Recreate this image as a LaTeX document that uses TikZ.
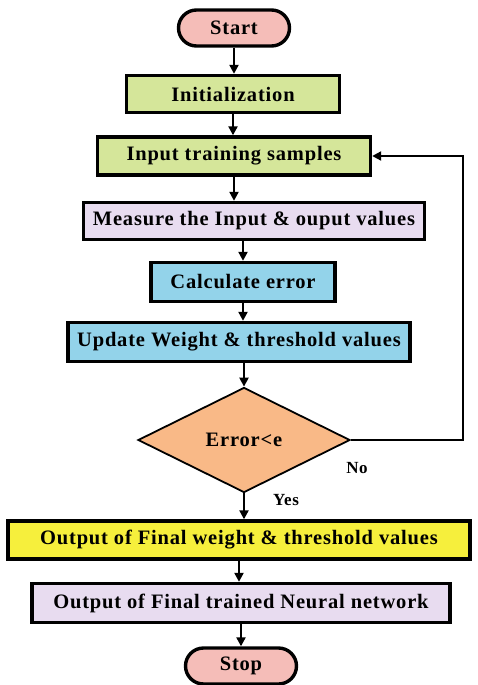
\documentclass[tikz,border=0pt]{standalone}
\usepackage{fontspec}
\setmainfont{Liberation Serif}[LetterSpace=4]
\usetikzlibrary{shapes.geometric, arrows.meta}
\definecolor{pinkFill}{HTML}{F5BDB8}
\definecolor{greenFill}{HTML}{D5E69A}
\definecolor{lilacFill}{HTML}{E8DCF0}
\definecolor{blueFill}{HTML}{93D3EA}
\definecolor{orangeFill}{HTML}{F9B987}
\definecolor{yellowFill}{HTML}{F6EF3C}
\tikzstyle{flowText}=[font = \fontsize{20.5}{24}\selectfont\bfseries]
\tikzstyle{flowArrow}=[line width = 2.2pt, -{Triangle[length=9pt, width=9pt]}]

\begin{document}
\begin{tikzpicture}[x = 1pt, y = -1pt]
\tikzstyle{stepBox}=[shape = rectangle, draw, line width = 3.4pt, inner sep = 0pt, flowText]
\tikzstyle{endBox}=[stepBox, rounded corners = 18pt, minimum width = 111pt, minimum height = 36pt]
\tikzstyle{testBox}=[shape = diamond, draw, line width = 1.8pt, inner sep = 0pt, aspect = 2, minimum width = 212pt, minimum height = 105pt, fill = orangeFill, flowText]
\tikzstyle{answer}=[font = \fontsize{17}{20}\selectfont\bfseries]
\useasboundingbox (0,0) rectangle (477,685);
\node[endBox, fill = pinkFill] (start) at (234,28) {Start};
\node[stepBox, fill = greenFill, minimum width = 213pt, minimum height = 37pt] (init) at (233,94) {Initialization};
\node[stepBox, fill = greenFill, minimum width = 273pt, minimum height = 38pt] (input) at (234,156) {Input training samples};
\node[stepBox, fill = lilacFill, minimum width = 341pt, minimum height = 37pt] (measure) at (254,221) {Measure the Input \& ouput values};
\node[stepBox, fill = blueFill, minimum width = 184pt, minimum height = 39pt] (calc) at (243,282) {Calculate error};
\node[stepBox, fill = blueFill, minimum width = 342pt, minimum height = 39pt] (update) at (239,342) {Update Weight \& threshold values};
\node[testBox] (test) at (244,440) {Error<e};
\node[stepBox, fill = yellowFill, minimum width = 462pt, minimum height = 38pt] (finalw) at (239,540) {Output of Final weight \& threshold values};
\node[stepBox, fill = lilacFill, minimum width = 418pt, minimum height = 39pt] (trained) at (241,603) {Output of Final trained Neural network};
\node[endBox, fill = pinkFill] (stop) at (241,666) {Stop};
\node[answer] (no) at (357,468) {No};
\node[answer] (yes) at (286,500) {Yes};
\coordinate (back) at (463,156);
\draw[flowArrow] (start.south) -- (start.south |- init.north);
\draw[flowArrow] (init.south) -- (init.south |- input.north);
\draw[flowArrow] (input.south) -- (input.south |- measure.north);
\draw[flowArrow] (calc.north |- measure.south) -- (calc.north);
\draw[flowArrow] (calc.south) -- (calc.south |- update.north);
\draw[flowArrow] (test.north |- update.south) -- (test.north);
\draw[flowArrow] (test.south) -- (test.south |- finalw.north);
\draw[flowArrow] (finalw.south) -- (finalw.south |- trained.north);
\draw[flowArrow] (stop.north |- trained.south) -- (stop.north);
\draw[flowArrow] (test.east) -| (back) -- (input.east);
\end{tikzpicture}
\end{document}
